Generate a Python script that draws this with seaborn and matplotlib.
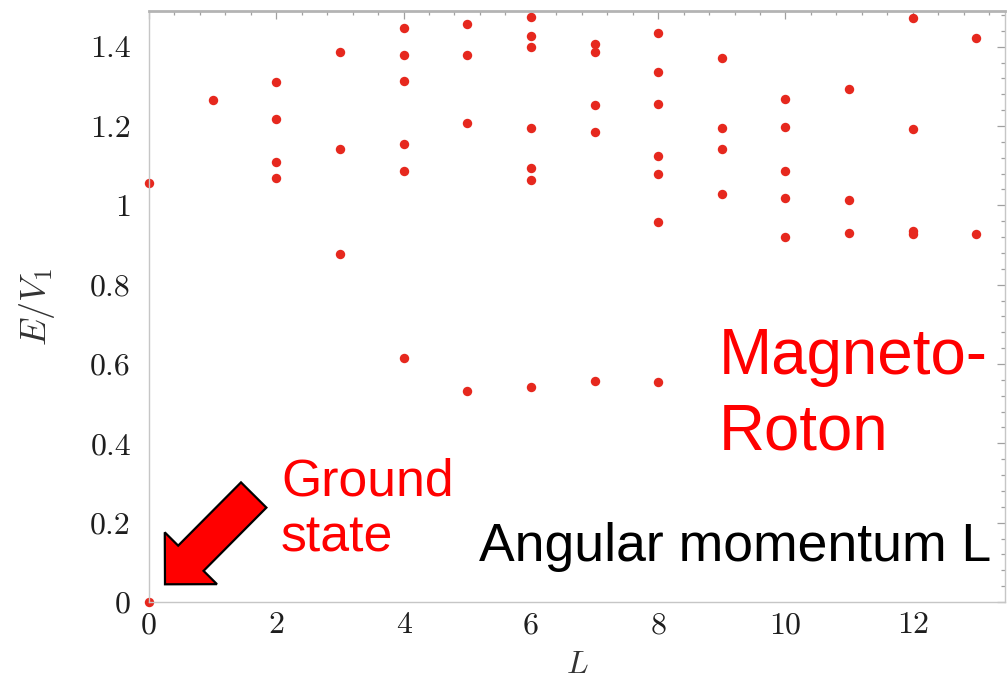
import matplotlib
matplotlib.use("Agg")
import matplotlib.pyplot as plt
import matplotlib.transforms as mtransforms
from matplotlib.patches import FancyArrow
from matplotlib.ticker import MultipleLocator, FuncFormatter
import numpy as np
import pandas as pd
import seaborn as sns

# Energy levels E/V1 for each angular momentum L
ang_mom = [0, 0,
           1,
           2, 2, 2, 2,
           3, 3, 3,
           4, 4, 4, 4, 4, 4,
           5, 5, 5, 5,
           6, 6, 6, 6, 6, 6, 6,
           7, 7, 7, 7, 7,
           8, 8, 8, 8, 8, 8, 8,
           9, 9, 9, 9,
           10, 10, 10, 10, 10,
           11, 11, 11,
           12, 12, 12, 12,
           13, 13]
energy = [0.0, 1.057,
          1.265,
          1.312, 1.218, 1.109, 1.068,
          1.386, 1.143, 0.878,
          1.446, 1.379, 1.313, 1.155, 1.086, 0.616,
          1.456, 1.379, 1.207, 0.531,
          1.475, 1.426, 1.398, 1.195, 1.094, 1.065, 0.542,
          1.406, 1.386, 1.252, 1.186, 0.558,
          1.435, 1.337, 1.255, 1.125, 1.079, 0.959, 0.554,
          1.371, 1.196, 1.143, 1.029,
          1.269, 1.198, 1.086, 1.019, 0.919,
          1.294, 1.014, 0.930,
          1.472, 1.193, 0.936, 0.927,
          1.421, 0.927]

x_ticks = [0, 2, 4, 6, 8, 10, 12]
y_ticks = [0, 0.2, 0.4, 0.6, 0.8, 1.0, 1.2, 1.4]

W, H, DPI = 1008, 682, 100

sns.set_style("white")
plt.rcParams["mathtext.fontset"] = "cm"

fig = plt.figure(figsize=(W / DPI, H / DPI), dpi=DPI)
fig.patch.set_facecolor("white")
ax = fig.add_axes([149 / W, 80 / H, 856 / W, 591 / H])

df = pd.DataFrame({"L": ang_mom, "E": energy})
sns.scatterplot(data=df, x="L", y="E", ax=ax, color="#e6281e", s=46,
                linewidth=0, legend=False)
for coll in ax.collections:
    coll.set_clip_on(False)

ax.set_xlim(0, 13.45)
ax.set_ylim(0, 1.49)
ax.set_xticks(x_ticks)
ax.set_yticks(y_ticks)
ax.xaxis.set_minor_locator(MultipleLocator(0.4))
ax.yaxis.set_minor_locator(MultipleLocator(0.04))


def short_num(v, pos=None):
    s = f"{v:.1f}"
    return s[:-2] if s.endswith(".0") else s


ax.xaxis.set_major_formatter(FuncFormatter(short_num))
ax.yaxis.set_major_formatter(FuncFormatter(short_num))

ax.tick_params(which="both", direction="in", top=True, right=True,
               color="#a0a0a0", labelcolor="#1e1e1e", width=0.9,
               labelsize=23, labelfontfamily="cmr10")
ax.tick_params(which="major", length=6)
ax.tick_params(which="minor", length=3)
ax.tick_params(axis="y", pad=13)
ax.tick_params(axis="x", pad=7)

for name, sp in ax.spines.items():
    sp.set_color("#c6c6c6")
    sp.set_linewidth(1.0)
ax.spines["top"].set_color("#b4b4b4")
ax.spines["top"].set_linewidth(2.0)

ax.set_xlabel(r"$L$", fontsize=23, color="#333333")
ax.set_ylabel(r"$E/V_1$", fontsize=26, color="#333333")
ax.xaxis.set_label_coords(0.5, -0.08)
ax.yaxis.set_label_coords(-0.108, 0.5)

# pixel coordinates measured from the top-left corner of the figure
px = mtransforms.Affine2D().scale(1 / DPI, -1 / DPI).translate(0, H / DPI) + fig.dpi_scale_trans


def put(x, y):
    return x / W, 1 - y / H


red = "#ff0000"
fig.text(*put(719, 374), "Magneto-", color=red, fontsize=45.8,
         family="Liberation Sans", va="baseline", ha="left")
fig.text(*put(719, 450), "Roton", color=red, fontsize=45.8,
         family="Liberation Sans", va="baseline", ha="left")
fig.text(*put(281, 496), "Ground", color=red, fontsize=37.3,
         family="Liberation Sans", va="baseline", ha="left")
fig.text(*put(281, 551), "state", color=red, fontsize=37.3,
         family="Liberation Sans", va="baseline", ha="left")
fig.text(*put(479, 561), "Angular momentum L", color="black", fontsize=38.5,
         family="Liberation Sans", va="baseline", ha="left")

# block arrow pointing at the ground state
tail = (253.7, 495.0)
tip = (165.0, 584.3)
arrow = FancyArrow(tail[0], tail[1], tip[0] - tail[0], tip[1] - tail[1],
                   width=35.8, head_width=73.5, head_length=36.7,
                   length_includes_head=True, facecolor=red,
                   edgecolor="black", linewidth=1.6, transform=px,
                   clip_on=False, zorder=5)
fig.add_artist(arrow)

fig.savefig("out.png", dpi=DPI, facecolor="white")
